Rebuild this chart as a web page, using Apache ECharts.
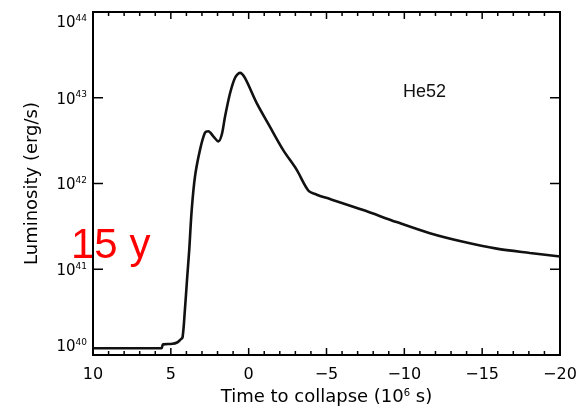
<!DOCTYPE html>
<html>
<head>
<meta charset="utf-8">
<script src="https://cdn.jsdelivr.net/npm/echarts@6/dist/echarts.min.js"></script>
<style>
  html, body { margin: 0; padding: 0; background: #fff; }
  #chart { width: 587px; height: 411px; }
</style>
</head>
<body>
<div id="chart"></div>
<script>
// Light curve of the He52 model: time to collapse (10^6 s) vs luminosity (erg/s)
const timeToCollapse = [
  10, 6.0, 5.6, 5.5, 4.9, 4.6, 4.4, 4.25, 4.1, 3.95, 3.82, 3.66, 3.45, 3.13,
  2.81, 2.59, 2.27, 1.95, 1.73, 1.52, 1.20, 0.88, 0.56, 0.24, -0.51, -1.37,
  -2.22, -3.08, -3.83, -4.37, -5.22, -7.36, -9.5, -11.64, -13.78, -15.93,
  -18.07, -20
];
const luminosity = [
  1.2e40, 1.2e40, 1.2e40, 1.33e40, 1.35e40, 1.4e40, 1.5e40, 1.6e40, 3.3e40,
  8.0e40, 1.66e41, 4.9e41, 1.2e42, 2.45e42, 3.9e42, 4.07e42, 3.55e42,
  3.1e42, 3.7e42, 6.0e42, 1.12e43, 1.7e43, 1.95e43, 1.7e43, 8.7e42,
  4.57e42, 2.45e42, 1.45e42, 8.3e41, 7.4e41, 6.6e41, 4.9e41, 3.55e41,
  2.63e41, 2.09e41, 1.74e41, 1.55e41, 1.41e41
];
// Tick values of the box frame
const xMajorTicks = [-20, -15, -10, -5, 0, 5, 10];
const xMinorTicks = [-19, -18, -17, -16, -14, -13, -12, -11, -9, -8, -7, -6,
  -4, -3, -2, -1, 1, 2, 3, 4, 6, 7, 8, 9];
const yMajorTicks = [1e40, 1e41, 1e42, 1e43, 1e44];
const modelName = 'He52';
const epochNote = '15 y';

const font = 'DejaVu Sans, Liberation Sans, sans-serif';
const fontNarrow = 'Liberation Sans, Arial, Helvetica, sans-serif';
const xMin = xMajorTicks[0], xMax = xMajorTicks[xMajorTicks.length - 1];
const yMin = yMajorTicks[0], yMax = yMajorTicks[yMajorTicks.length - 1];

const lineData = timeToCollapse.map((t, i) => [t, luminosity[i]]);

// Inward tick marks on all four sides of the frame, placed through the axes' scales
const tickMarks = [];
xMajorTicks.forEach(v => {
  tickMarks.push({ at: [v, yMin], dir: [0, -1], len: 7 });
  tickMarks.push({ at: [v, yMax], dir: [0, 1], len: 7 });
});
xMinorTicks.forEach(v => {
  tickMarks.push({ at: [v, yMin], dir: [0, -1], len: 4 });
  tickMarks.push({ at: [v, yMax], dir: [0, 1], len: 4 });
});
yMajorTicks.forEach(v => {
  tickMarks.push({ at: [xMax, v], dir: [1, 0], len: 10 });
  tickMarks.push({ at: [xMin, v], dir: [-1, 0], len: 10 });
});

const chart = echarts.init(document.getElementById('chart'), null, { renderer: 'canvas' });
chart.setOption({
  animation: false,
  backgroundColor: '#fff',
  grid: {
    left: 93, right: 27, top: 12, bottom: 56,
    show: true, borderColor: '#000', borderWidth: 2, backgroundColor: 'transparent'
  },
  xAxis: {
    type: 'value', inverse: true,
    min: xMin, max: xMax, interval: 5,
    axisLine: { show: true, lineStyle: { color: '#000', width: 2 } },
    axisTick: { show: false },
    minorTick: { show: false },
    splitLine: { show: false },
    axisLabel: {
      margin: 12, color: '#000', fontSize: 16, fontFamily: font,
      formatter: v => (v < 0 ? '\u2212' + Math.abs(v) : String(v))
    },
    name: '{t|Time to collapse (10}{s|6}{t| s)}',
    nameLocation: 'middle', nameGap: 33,
    nameTextStyle: {
      rich: {
        t: { fontSize: 18, fontFamily: font, color: '#000' },
        s: { fontSize: 10, fontFamily: font, color: '#000', padding: [0, 0, 8, 0] }
      }
    }
  },
  yAxis: {
    type: 'log', logBase: 10,
    min: yMin, max: yMax,
    axisLine: { show: true, onZero: false, lineStyle: { color: '#000', width: 2 } },
    axisTick: { show: false },
    splitLine: { show: false },
    axisLabel: {
      margin: 6, color: '#000', fontFamily: font,
      verticalAlignMinLabel: 'bottom',
      verticalAlignMaxLabel: 'top',
      formatter: v => '{b|10}{e|' + Math.round(Math.log10(v)) + '}',
      rich: {
        b: { fontSize: 15, fontFamily: font, color: '#000', padding: [4, 0, 0, 0] },
        e: { fontSize: 9, fontFamily: font, color: '#000', padding: [0, 0, 6, 0] }
      }
    },
    name: 'Luminosity (erg/s)',
    nameLocation: 'middle', nameGap: 52,
    nameTextStyle: { fontSize: 18, fontFamily: font, color: '#000' }
  },
  series: [
    {
      type: 'line',
      data: lineData,
      showSymbol: false,
      smooth: 0.3,
      lineStyle: { color: '#111', width: 2.6 },
      clip: true,
      z: 2
    },
    {
      type: 'custom',
      data: tickMarks.map(t => t.at),
      clip: false,
      silent: true,
      z: 3,
      renderItem: (params, api) => {
        const t = tickMarks[params.dataIndex];
        const p = api.coord(t.at);
        return {
          type: 'line',
          shape: { x1: p[0], y1: p[1], x2: p[0] + t.dir[0] * t.len, y2: p[1] + t.dir[1] * t.len },
          style: { stroke: '#000', lineWidth: 1.5 }
        };
      }
    }
  ],
  graphic: [
    {
      type: 'text', left: 403, top: 83,
      style: { text: modelName, fontSize: 18, fontFamily: fontNarrow, fill: '#111' }
    },
    {
      type: 'text', left: 71, top: 225,
      style: { text: epochNote, fontSize: 42, fontFamily: fontNarrow, fill: '#ff0000' }
    }
  ]
});
</script>
</body>
</html>
